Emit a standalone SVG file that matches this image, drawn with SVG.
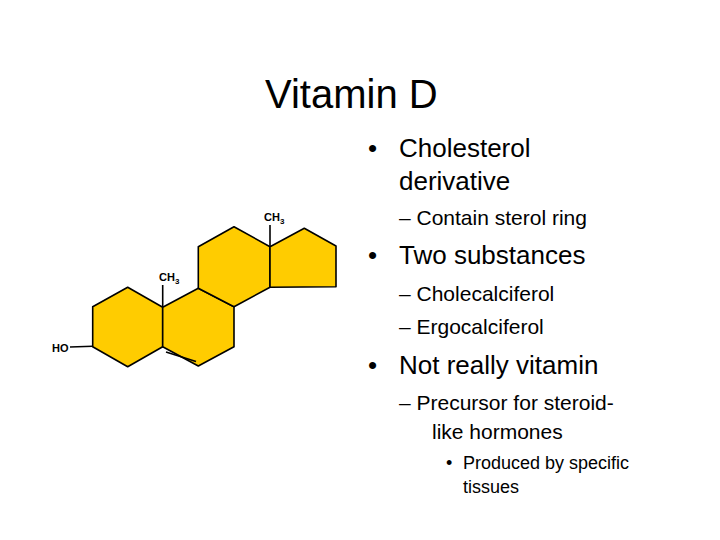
<svg xmlns="http://www.w3.org/2000/svg" width="720" height="540" viewBox="0 0 720 540">
<style>
.r{fill:#FFCC00;stroke:#000;stroke-width:1.6;stroke-linejoin:round}
.b{stroke:#000;stroke-width:1.6;fill:none}
.lab{font-family:"Liberation Sans",Arial,sans-serif;font-weight:bold;font-size:11px}
.sub{font-size:8px}
text{font-family:"Liberation Sans",Arial,sans-serif;fill:#000}
.l1{font-size:26px}.l2{font-size:21px}.l3{font-size:18px}
</style>
<rect width="720" height="540" fill="#fff"/>
<text x="265" y="108" font-size="40">Vitamin D</text>
<g id="molecule">
<polygon id="ringA" class="r" points="127.7,287.3 162.7,307.3 162.7,346.7 127.7,366.7 92.7,346.7 92.7,306.7"/>
<polygon id="ringB" class="r" points="162.7,307.3 198.3,288.3 234,306.7 234,346.7 198.3,366 162.7,346.7"/>
<polygon id="ringC" class="r" points="198.3,288.3 198.3,246.7 234,226.7 270,246.7 270,287.3 234,306.7"/>
<polygon id="ringD" class="r" points="270,246.7 304.3,228.3 336,246 336,286.7 270,287.3"/>
<g id="bonds">
<line class="b" x1="166" y1="352" x2="196" y2="361.5"/>
<line class="b" x1="270" y1="246.7" x2="270" y2="225"/>
<line class="b" x1="162.7" y1="307.3" x2="162.7" y2="285"/>
<line class="b" x1="70" y1="347" x2="92.7" y2="346.2"/>
</g>
<text class="lab" x="264" y="221">CH<tspan class="sub" dy="3">3</tspan></text>
<text class="lab" x="159" y="281">CH<tspan class="sub" dy="3">3</tspan></text>
<text class="lab" x="52" y="352">HO</text>
</g>
<g id="bullets">
<text class="l1" x="368" y="157">•</text><text class="l1" x="399" y="157">Cholesterol</text>
<text class="l1" x="399" y="190">derivative</text>
<text class="l2" x="399" y="225">– Contain sterol ring</text>
<text class="l1" x="368" y="264">•</text><text class="l1" x="399" y="264">Two substances</text>
<text class="l2" x="399" y="301">– Cholecalciferol</text>
<text class="l2" x="399" y="334">– Ergocalciferol</text>
<text class="l1" x="368" y="374">•</text><text class="l1" x="399" y="374">Not really vitamin</text>
<text class="l2" x="399" y="410">– Precursor for steroid-</text>
<text class="l2" x="432" y="439">like hormones</text>
<text class="l3" x="446" y="469">•</text><text class="l3" x="463" y="469">Produced by specific</text>
<text class="l3" x="463" y="493">tissues</text>
</g>
</svg>
